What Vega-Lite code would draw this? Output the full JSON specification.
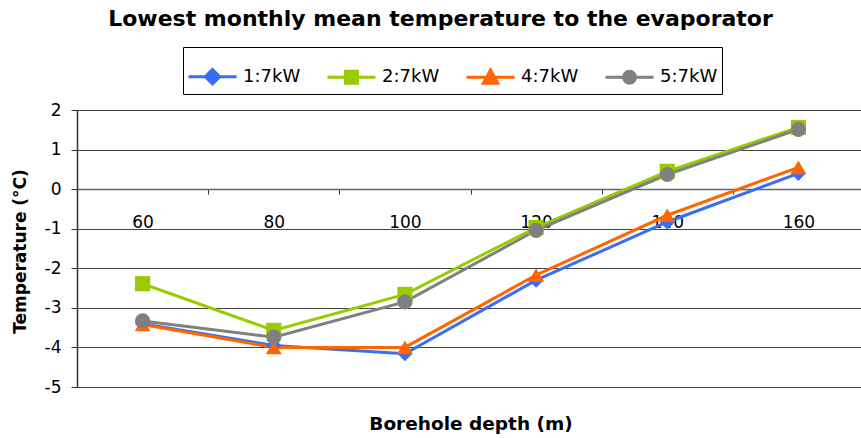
{
  "$schema": "https://vega.github.io/schema/vega-lite/v6.json",
  "width": 787,
  "height": 277,
  "autosize": {"type": "none"},
  "padding": {"left": 77, "top": 110, "right": 0, "bottom": 51},
  "background": "white",
  "title": {
    "text": "Lowest monthly mean temperature to the evaporator",
    "font": "DejaVu Sans",
    "fontSize": 22,
    "fontWeight": "bold",
    "color": "black",
    "anchor": "middle",
    "dx": -30,
    "dy": -12
  },
  "data": {
    "values": [
      {"depth": "60", "series": "1:7kW", "temp": -3.40},
      {"depth": "80", "series": "1:7kW", "temp": -3.95},
      {"depth": "100", "series": "1:7kW", "temp": -4.16},
      {"depth": "120", "series": "1:7kW", "temp": -2.30},
      {"depth": "140", "series": "1:7kW", "temp": -0.83},
      {"depth": "160", "series": "1:7kW", "temp": 0.40},
      {"depth": "60", "series": "2:7kW", "temp": -2.39},
      {"depth": "80", "series": "2:7kW", "temp": -3.57},
      {"depth": "100", "series": "2:7kW", "temp": -2.66},
      {"depth": "120", "series": "2:7kW", "temp": -0.97},
      {"depth": "140", "series": "2:7kW", "temp": 0.45},
      {"depth": "160", "series": "2:7kW", "temp": 1.56},
      {"depth": "60", "series": "4:7kW", "temp": -3.42},
      {"depth": "80", "series": "4:7kW", "temp": -4.00},
      {"depth": "100", "series": "4:7kW", "temp": -4.00},
      {"depth": "120", "series": "4:7kW", "temp": -2.17},
      {"depth": "140", "series": "4:7kW", "temp": -0.66},
      {"depth": "160", "series": "4:7kW", "temp": 0.55},
      {"depth": "60", "series": "5:7kW", "temp": -3.33},
      {"depth": "80", "series": "5:7kW", "temp": -3.74},
      {"depth": "100", "series": "5:7kW", "temp": -2.85},
      {"depth": "120", "series": "5:7kW", "temp": -1.04},
      {"depth": "140", "series": "5:7kW", "temp": 0.37},
      {"depth": "160", "series": "5:7kW", "temp": 1.51}
    ]
  },
  "encoding": {
    "x": {
      "field": "depth",
      "type": "ordinal",
      "sort": ["60", "80", "100", "120", "140", "160"],
      "scale": {"type": "band", "paddingInner": 0, "paddingOuter": 0},
      "axis": {
        "title": "Borehole depth (m)",
        "titleFont": "DejaVu Sans",
        "titleFontSize": 18.5,
        "titleFontWeight": "bold",
        "titleColor": "black",
        "titleBaseline": "alphabetic",
        "titleY": 240,
        "offset": -198,
        "labelAngle": 0,
        "labelFont": "DejaVu Sans",
        "labelFontSize": 17,
        "labelColor": "black",
        "labelBaseline": "alphabetic",
        "labelPadding": 33,
        "tickSize": 5,
        "tickColor": "#333",
        "tickOffset": -65.5,
        "labelOffset": 65.5,
        "domainColor": "#666",
        "domainWidth": 1.5,
        "grid": false
      }
    },
    "y": {
      "field": "temp",
      "type": "quantitative",
      "scale": {"domain": [-5, 2], "nice": false, "zero": false},
      "axis": {
        "title": "Temperature (°C)",
        "titleFont": "DejaVu Sans",
        "titleFontSize": 17,
        "titleFontWeight": "bold",
        "titleColor": "black",
        "titleBaseline": "alphabetic",
        "titleX": -52,
        "titleY": 141,
        "titleAngle": -90,
        "titleAlign": "center",
        "values": [-5, -4, -3, -2, -1, 0, 1, 2],
        "labelExpr": "replace(datum.label, '−', '-')",
        "labelFont": "DejaVu Sans",
        "labelFontSize": 17,
        "labelColor": "black",
        "labelPadding": 10,
        "tickSize": 6,
        "tickColor": "#333",
        "domainColor": "#333",
        "domainWidth": 1.5,
        "grid": true,
        "gridColor": "#444",
        "gridWidth": 1,
        "gridOpacity": 1
      }
    }
  },
  "layer": [
    {
      "mark": {"type": "line", "strokeWidth": 3},
      "encoding": {
        "color": {
          "field": "series",
          "type": "nominal",
          "scale": {"domain": ["1:7kW", "2:7kW", "4:7kW", "5:7kW"], "range": ["#3A6DF5", "#99CC00", "#FF6600", "#808080"]},
          "legend": null
        }
      }
    },
    {
      "transform": [{"filter": "datum.series === '1:7kW'"}],
      "mark": {"type": "point", "filled": true, "opacity": 1, "size": 230, "shape": "diamond"},
      "encoding": {"color": {"field": "series", "type": "nominal", "legend": null}}
    },
    {
      "transform": [{"filter": "datum.series === '2:7kW'"}],
      "mark": {"type": "point", "filled": true, "opacity": 1, "size": 230, "shape": "square"},
      "encoding": {"color": {"field": "series", "type": "nominal", "legend": null}}
    },
    {
      "transform": [{"filter": "datum.series === '4:7kW'"}],
      "mark": {"type": "point", "filled": true, "opacity": 1, "size": 250, "shape": "triangle-up"},
      "encoding": {"color": {"field": "series", "type": "nominal", "legend": null}}
    },
    {
      "transform": [{"filter": "datum.series === '5:7kW'"}],
      "mark": {"type": "point", "filled": true, "opacity": 1, "size": 230, "shape": "circle"},
      "encoding": {"color": {"field": "series", "type": "nominal", "legend": null}}
    },
    {
      "mark": {
        "type": "point",
        "filled": true,
        "opacity": 0,
        "size": 10,
        "fill": {"expr": "scale('color', datum.series || datum.value)"},
        "stroke": {"expr": "scale('color', datum.series || datum.value)"},
        "strokeWidth": 3
      },
      "encoding": {
        "shape": {
          "field": "series",
          "type": "nominal",
          "scale": {
            "range": [
              "M-1,0L1,0M0,-0.3L0.3,0L0,0.3L-0.3,0Z",
              "M-1,0L1,0M-0.25,-0.25L0.25,-0.25L0.25,0.25L-0.25,0.25Z",
              "M-1,0L1,0M0,-0.3L0.3,0.25L-0.3,0.25Z",
              "M-1,0L1,0M-0.25,0A0.25,0.25 0 1,0 0.25,0A0.25,0.25 0 1,0 -0.25,0Z"
            ]
          },
          "legend": {
            "title": null,
            "orient": "none",
            "legendX": 106,
            "legendY": -63,
            "direction": "horizontal",
            "symbolSize": 2304,
            "symbolStrokeWidth": 3,
            "symbolOpacity": 1,
            "labelFont": "DejaVu Sans",
            "labelFontSize": 18,
            "labelColor": "black",
            "labelOffset": 5,
            "columnPadding": 20,
            "padding": 4,
            "strokeColor": "black",
            "fillColor": "white"
          }
        }
      }
    }
  ],
  "config": {
    "view": {"stroke": null}
  }
}
